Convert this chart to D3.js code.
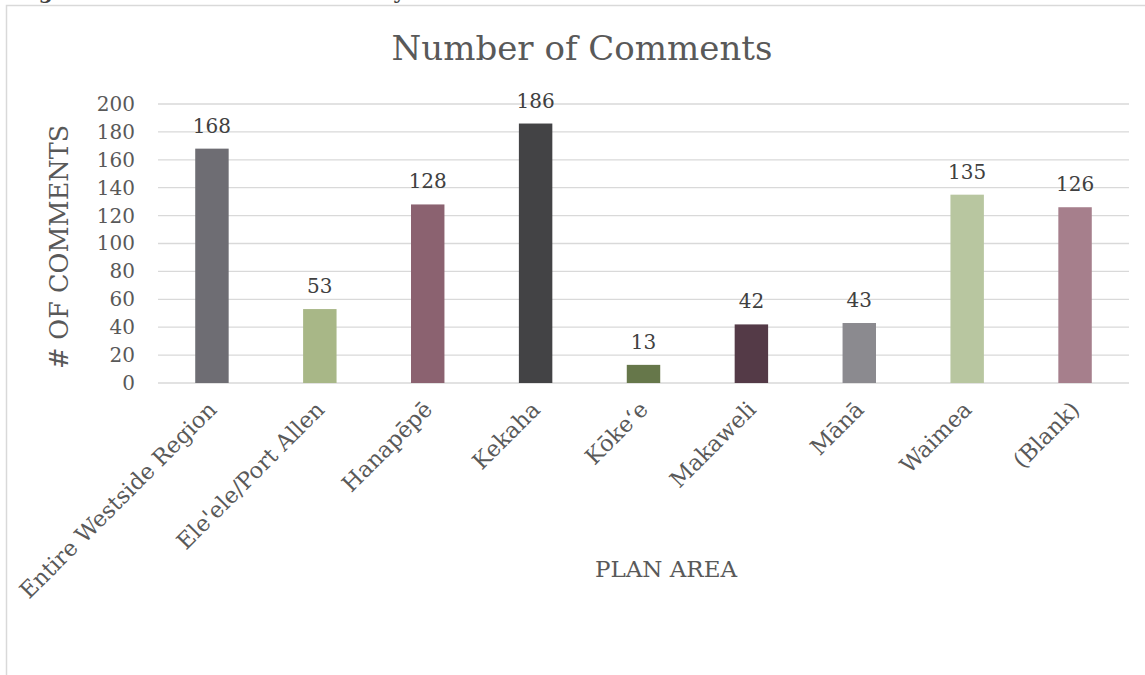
<!DOCTYPE html>
<html>
<head>
<meta charset="utf-8">
<script src="https://cdn.jsdelivr.net/npm/d3@7"></script>
<style>
  body { margin: 0; background: #fff; }
  text { font-family: "DejaVu Serif", serif; fill: #595959; }
</style>
</head>
<body>
<div id="chart"></div>
<script>
// chart data
var areas = ["Entire Westside Region", "Ele'ele/Port Allen", "Hanapēpē", "Kekaha",
  "Kōkeʻe", "Makaweli", "Mānā", "Waimea", "(Blank)"];
var comments = [168, 53, 128, 186, 13, 42, 43, 135, 126];
var barColors = ["#6e6d73", "#a8b787", "#8b6270", "#434345", "#66774a",
  "#543a47", "#8b8a8f", "#b8c6a0", "#a67f8c"];
var yTicks = [0, 20, 40, 60, 80, 100, 120, 140, 160, 180, 200];

var svgWidth = 1145;
var svgHeight = 675;

var margin = { top: 104, right: 16, bottom: 292, left: 158 };
var width = svgWidth - margin.left - margin.right;
var height = svgHeight - margin.top - margin.bottom;

var svg = d3.select("#chart")
  .append("svg")
  .attr("width", svgWidth)
  .attr("height", svgHeight);

// caption above the frame, cut off by the page edge as in the source
svg.append("text")
  .attr("x", 17)
  .attr("y", -1)
  .style("font-weight", "bold")
  .style("font-size", "20px")
  .style("fill", "#404040")
  .text("Figure 4: Number of Comments by Area");

// chart frame
svg.append("rect")
  .attr("x", 6.5)
  .attr("y", 5.5)
  .attr("width", 1180)
  .attr("height", 700)
  .attr("fill", "none")
  .attr("stroke", "#d9d9d9")
  .attr("stroke-width", 1.5);

svg.append("text")
  .attr("x", 582)
  .attr("y", 60)
  .attr("text-anchor", "middle")
  .style("font-size", "34px")
  .text("Number of Comments");

var chartGroup = svg.append("g")
  .attr("transform", `translate(${margin.left}, ${margin.top})`);

var xScale = d3.scaleBand()
  .domain(areas)
  .range([0, width])
  .paddingInner(0.69)
  .paddingOuter(0.345);

var yScale = d3.scaleLinear()
  .domain([0, 200])
  .range([height, 0]);

// gridlines
chartGroup.append("g")
  .selectAll("line")
  .data(yTicks)
  .enter()
  .append("line")
  .attr("x1", 0)
  .attr("x2", width)
  .attr("y1", d => yScale(d))
  .attr("y2", d => yScale(d))
  .attr("stroke", "#d9d9d9")
  .attr("stroke-width", 1.3);

// y axis labels
var leftAxis = d3.axisLeft(yScale)
  .tickValues(yTicks)
  .tickSize(0)
  .tickPadding(23);

var yAxis = chartGroup.append("g").call(leftAxis);
yAxis.select(".domain").remove();
yAxis.selectAll("text")
  .style("font-size", "20px")
  .style("font-family", "DejaVu Serif, serif")
  .attr("fill", "#595959");

// bars
var rows = areas.map((a, i) => ({ area: a, value: comments[i], color: barColors[i] }));

chartGroup.selectAll("rect.bar")
  .data(rows)
  .enter()
  .append("rect")
  .attr("class", "bar")
  .attr("x", d => xScale(d.area))
  .attr("y", d => yScale(d.value))
  .attr("width", xScale.bandwidth())
  .attr("height", d => height - yScale(d.value))
  .attr("fill", d => d.color);

// value labels
chartGroup.selectAll("text.val")
  .data(rows)
  .enter()
  .append("text")
  .attr("class", "val")
  .attr("x", d => xScale(d.area) + xScale.bandwidth() / 2)
  .attr("y", d => yScale(d.value) - 16)
  .attr("text-anchor", "middle")
  .style("font-size", "20px")
  .style("fill", "#404040")
  .text(d => d.value);

// category labels, rotated
chartGroup.selectAll("text.cat")
  .data(areas)
  .enter()
  .append("text")
  .attr("class", "cat")
  .attr("transform", d => `translate(${xScale(d) + xScale.bandwidth() / 2 - 6}, ${height + 16}) rotate(-45)`)
  .attr("text-anchor", "end")
  .attr("dy", "0.75em")
  .style("font-size", "22.5px")
  .text(d => d);

// axis titles
svg.append("text")
  .attr("x", 666)
  .attr("y", 577)
  .attr("text-anchor", "middle")
  .style("font-size", "23px")
  .text("PLAN AREA");

svg.append("text")
  .attr("transform", "translate(68, 247) rotate(-90)")
  .attr("text-anchor", "middle")
  .style("font-size", "25.5px")
  .text("# OF COMMENTS");
</script>
</body>
</html>
